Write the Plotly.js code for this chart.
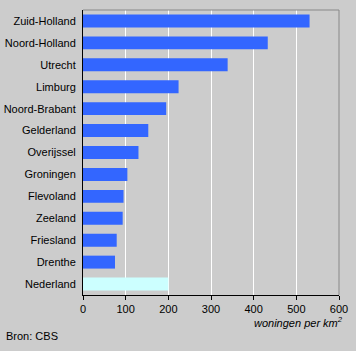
<!DOCTYPE html>
<html><head><meta charset="utf-8">
<script src="https://cdn.plot.ly/plotly-3.0.1.min.js"></script>
<style>html,body{margin:0;padding:0;background:#cccccc;}#c{width:356px;height:351px;}</style>
</head><body><div id="c"></div>
<script>
var categories = ["Zuid-Holland","Noord-Holland","Utrecht","Limburg","Noord-Brabant","Gelderland","Overijssel","Groningen","Flevoland","Zeeland","Friesland","Drenthe","Nederland"];
var values = [531, 433, 339, 224, 195, 153, 130, 104, 95, 93, 79, 75, 200];
var barColors = ["#3366ff","#3366ff","#3366ff","#3366ff","#3366ff","#3366ff","#3366ff","#3366ff","#3366ff","#3366ff","#3366ff","#3366ff","#ccffff"];
var xTicks = [0, 100, 200, 300, 400, 500, 600];

var trace = {
  type: 'bar', orientation: 'h',
  x: values, y: categories,
  marker: {color: barColors, line: {width: 0}},
  hoverinfo: 'none'
};
var font = {family: 'Liberation Sans, Arial, sans-serif', size: 11, color: '#000'};
var layout = {
  width: 356, height: 351,
  margin: {l: 83, r: 17, t: 10, b: 56},
  paper_bgcolor: '#cccccc', plot_bgcolor: '#cccccc',
  font: font,
  showlegend: false,
  bargap: 0.41,
  xaxis: {
    range: [0, 600], tickvals: xTicks, ticktext: xTicks.map(String),
    showgrid: true, gridcolor: '#ffffff', gridwidth: 1,
    zeroline: false, showline: true, linecolor: '#000', linewidth: 1,
    ticks: 'outside', ticklen: 4, tickcolor: '#000', tickfont: font
  },
  yaxis: {
    type: 'category',
    categoryorder: 'array', categoryarray: categories.slice().reverse(),
    range: [-0.5, categories.length - 0.5],
    showgrid: false, zeroline: false, showline: true, linecolor: '#000', linewidth: 1,
    ticks: '', ticklabelstandoff: 4, tickfont: font
  },
  shapes: [
    {type: 'line', xref: 'paper', yref: 'paper', x0: 0, x1: 1, y0: 1, y1: 1, line: {color: '#888888', width: 1}},
    {type: 'line', xref: 'paper', yref: 'paper', x0: 1, x1: 1, y0: 0, y1: 1, line: {color: '#888888', width: 1}}
  ],
  annotations: [
    {xref: 'paper', yref: 'paper', x: 1.024, y: -0.095, xanchor: 'right', yanchor: 'middle', showarrow: false,
     text: '<i>woningen per km<sup>2</sup></i>', font: {family: 'Liberation Sans, Arial, sans-serif', size: 11, color: '#000'}},
    {xref: 'paper', yref: 'paper', x: -0.31, y: -0.145, xanchor: 'left', yanchor: 'middle', showarrow: false,
     text: 'Bron: CBS', font: font}
  ]
};
Plotly.newPlot('c', [trace], layout, {staticPlot: true, displayModeBar: false});
</script></body></html>
